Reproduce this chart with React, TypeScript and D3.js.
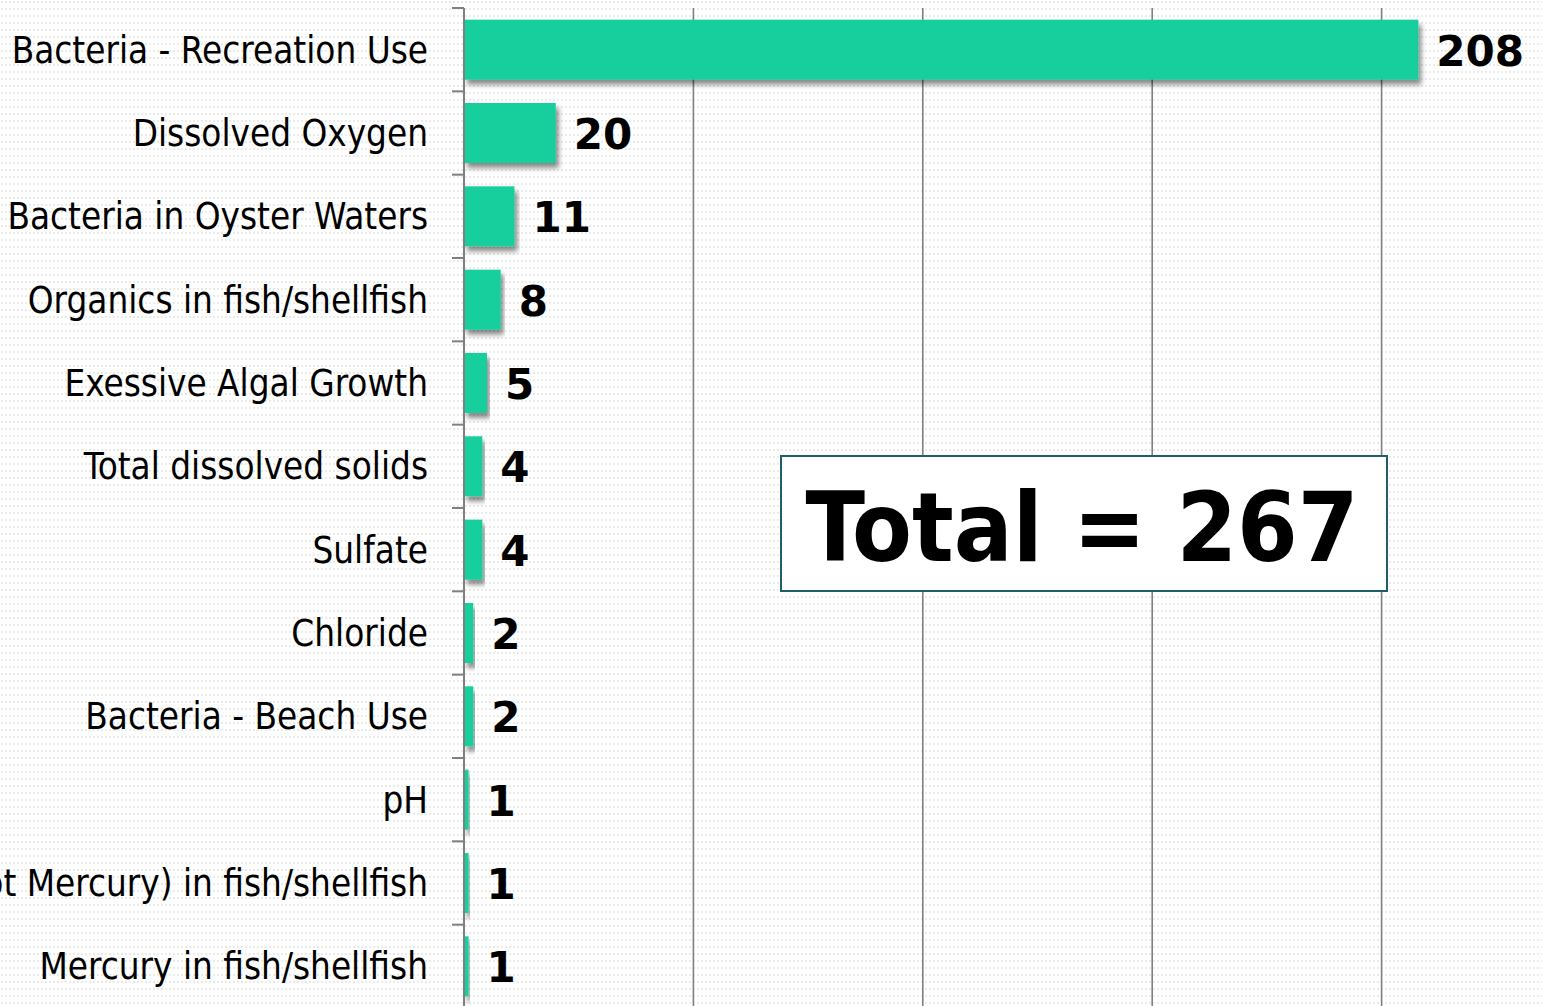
import React from "react";
import * as d3 from "d3";

const categories = [
  "Bacteria - Recreation Use",
  "Dissolved Oxygen",
  "Bacteria in Oyster Waters",
  "Organics in fish/shellfish",
  "Exessive Algal Growth",
  "Total dissolved solids",
  "Sulfate",
  "Chloride",
  "Bacteria - Beach Use",
  "pH",
  "Metals (not Mercury) in fish/shellfish",
  "Mercury in fish/shellfish",
];
const values = [208, 20, 11, 8, 5, 4, 4, 2, 2, 1, 1, 1];
const xTicks = [0, 50, 100, 150, 200, 250];
const totalLabel = "Total = 267";

const W = 1542;
const H = 1006;
const BAR = "#13CF9C";
const COND = "'DejaVu Sans Condensed', 'DejaVu Sans', sans-serif";
const REG = "'DejaVu Sans', sans-serif";

export default function App() {
  const x = d3.scaleLinear().domain([0, 250]).range([464, 1611]);
  const y = d3
    .scaleBand<string>()
    .domain(categories)
    .range([8, 1008])
    .paddingInner(0.28)
    .paddingOuter(0.14);
  const step = y.step();
  const top = 8;
  const boundaries = d3.range(categories.length + 1).map((i) => top + i * step);

  return (
    <svg
      width={W}
      height={H}
      style={{ position: "absolute", left: 0, top: 0 }}
      xmlns="http://www.w3.org/2000/svg"
    >
      <defs>
        <pattern id="dots" width="4" height="7" patternUnits="userSpaceOnUse">
          <rect width="4" height="7" fill="#ffffff" />
          <circle cx="2" cy="2" r="0.9" fill="#e2e2e2" />
        </pattern>
        <filter id="shadow" x="-5%" y="-20%" width="115%" height="160%">
          <feDropShadow dx="3" dy="5" stdDeviation="2.5" floodColor="#000" floodOpacity="0.45" />
        </filter>
      </defs>
      <rect width={W} height={H} fill="url(#dots)" />

      {/* grid lines */}
      {xTicks
        .filter((t) => t > 0)
        .map((t) => (
          <line
            key={t}
            x1={x(t)}
            x2={x(t)}
            y1={top}
            y2={H}
            stroke="#808080"
            strokeWidth={1.6}
          />
        ))}

      {/* bars */}
      {categories.map((c, i) => (
        <rect
          key={c}
          x={x(0)}
          y={y(c)}
          width={x(values[i]) - x(0)}
          height={y.bandwidth()}
          fill={BAR}
          filter="url(#shadow)"
        />
      ))}

      {/* axis */}
      <line x1={x(0)} x2={x(0)} y1={top} y2={H} stroke="#808080" strokeWidth={2} />
      {boundaries.map((b, i) => (
        <line key={i} x1={x(0) - 12} x2={x(0)} y1={b} y2={b} stroke="#808080" strokeWidth={2} />
      ))}

      {/* category labels */}
      {categories.map((c) => (
        <text
          key={c}
          x={428}
          y={(y(c) as number) + y.bandwidth() / 2}
          dy="0.36em"
          textAnchor="end"
          fontFamily={COND}
          fontSize={36.5}
          fill="#000"
        >
          {c}
        </text>
      ))}

      {/* value labels */}
      {categories.map((c, i) => (
        <text
          key={c}
          x={x(values[i]) + 18}
          y={(y(c) as number) + y.bandwidth() / 2}
          dy="0.38em"
          fontFamily={REG}
          fontWeight="bold"
          fontSize={42}
          fill="#000"
        >
          {values[i]}
        </text>
      ))}

      {/* total box */}
      <rect x={781} y={456} width={606} height={135} fill="#fff" stroke="#1F5E6A" strokeWidth={2} />
      <text
        x={1082}
        y={561}
        textAnchor="middle"
        fontFamily={COND}
        fontWeight="bold"
        fontSize={97}
        fill="#000"
      >
        {totalLabel}
      </text>
    </svg>
  );
}
